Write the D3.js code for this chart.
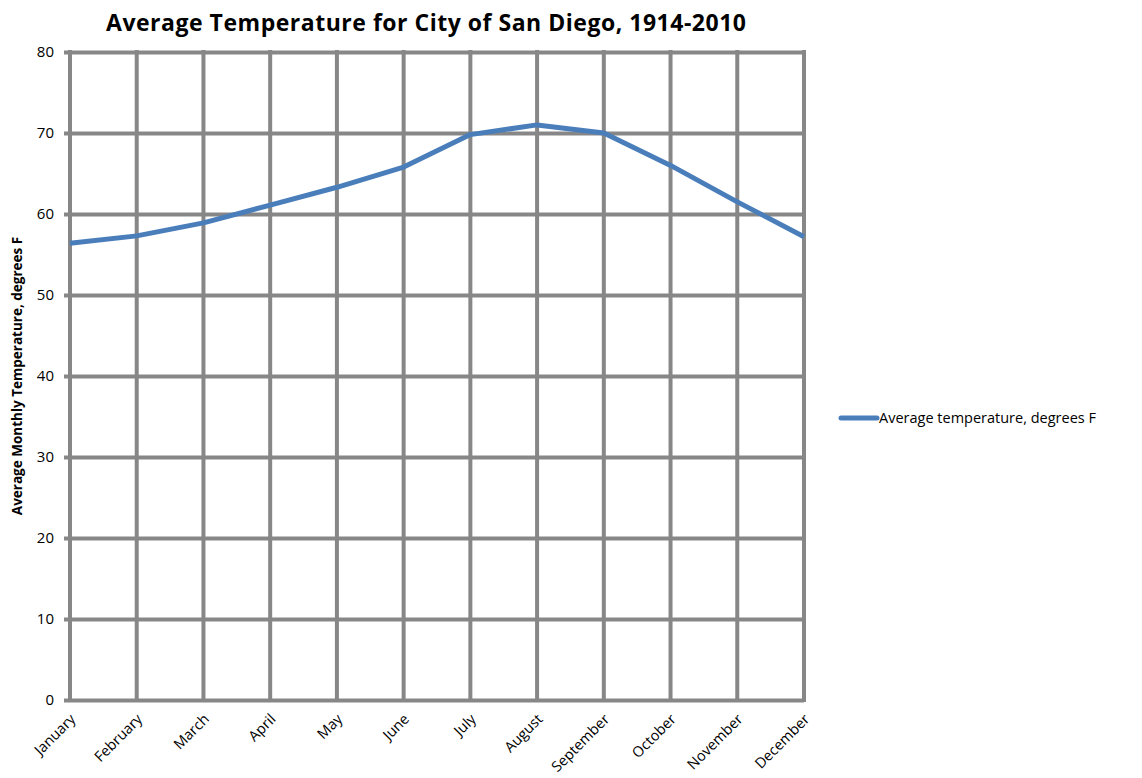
<!DOCTYPE html>
<html>
<head>
<meta charset="utf-8">
<script src="https://cdn.jsdelivr.net/npm/d3@7"></script>
<style>
  body { margin: 0; background: #fff; }
  text { font-family: "Open Sans", "DejaVu Sans", sans-serif; fill: #000; }
</style>
</head>
<body>
<div id="chart"></div>
<script>
// chart data
var months = ["January", "February", "March", "April", "May", "June",
  "July", "August", "September", "October", "November", "December"];
var avgTemps = [56.4, 57.3, 58.9, 61.1, 63.3, 65.8, 69.8, 71.0, 70.0, 66.0, 61.5, 57.2];
var yTicks = [0, 10, 20, 30, 40, 50, 60, 70, 80];
var seriesName = "Average temperature, degrees F";

var svgWidth = 1142;
var svgHeight = 778;

var margin = { top: 52, right: 338, bottom: 78, left: 70 };
var chartWidth = svgWidth - margin.left - margin.right;
var chartHeight = svgHeight - margin.top - margin.bottom;

var svg = d3.select("#chart").append("svg")
  .attr("width", svgWidth)
  .attr("height", svgHeight);

var chartGroup = svg.append("g")
  .attr("transform", `translate(${margin.left}, ${margin.top})`);

var xScale = d3.scalePoint()
  .domain(months)
  .range([0, chartWidth]);

var yScale = d3.scaleLinear()
  .domain([0, 80])
  .range([chartHeight, 0]);

var gridColor = "#878787";

// horizontal grid + y axis
var yAxis = d3.axisLeft(yScale)
  .tickValues(yTicks)
  .tickSize(-chartWidth - 6)
  .tickPadding(8);

var yg = chartGroup.append("g")
  .attr("transform", "translate(-6,0)")
  .call(yAxis);
yg.select(".domain").remove();
yg.selectAll(".tick line")
  .attr("stroke", gridColor)
  .attr("stroke-width", 4)
  .attr("x1", 0);
yg.selectAll(".tick text")
  .attr("x", -10)
  .attr("font-size", 15)
  .attr("fill", "#222");

// vertical grid lines
chartGroup.selectAll(".vgrid")
  .data(months)
  .enter()
  .append("line")
  .attr("class", "vgrid")
  .attr("x1", d => xScale(d))
  .attr("x2", d => xScale(d))
  .attr("y1", yScale(80) - 2)
  .attr("y2", yScale(0) + 2)
  .attr("stroke", gridColor)
  .attr("stroke-width", 4);

// x axis labels
var xAxis = d3.axisBottom(xScale).tickSize(0).tickPadding(0);
var xg = chartGroup.append("g")
  .attr("transform", `translate(0, ${chartHeight})`)
  .call(xAxis);
xg.select(".domain").remove();
xg.selectAll(".tick text")
  .attr("font-size", 14.5)
  .attr("fill", "#222")
  .attr("dy", null)
  .attr("text-anchor", "end")
  .attr("transform", "translate(6,20) rotate(-45)");

// the line
var line = d3.line()
  .x((d, i) => xScale(months[i]))
  .y(d => yScale(d));

chartGroup.append("path")
  .datum(avgTemps)
  .attr("d", line)
  .attr("fill", "none")
  .attr("stroke", "#4a7ebb")
  .attr("stroke-width", 5)
  .attr("stroke-linejoin", "round");

// title
svg.append("text")
  .attr("x", 426)
  .attr("y", 31)
  .attr("text-anchor", "middle")
  .attr("font-size", 23)
  .attr("font-weight", "bold")
  .attr("textLength", 640)
  .text("Average Temperature for City of San Diego, 1914-2010");

// y axis label
svg.append("text")
  .attr("transform", "translate(22, 376) rotate(-90)")
  .attr("text-anchor", "middle")
  .attr("font-size", 13.5)
  .attr("font-weight", "bold")
  .text("Average Monthly Temperature, degrees F");

// legend
var legend = svg.append("g")
  .attr("transform", "translate(841, 418)");
legend.append("line")
  .attr("x1", 0)
  .attr("x2", 36)
  .attr("stroke", "#4a7ebb")
  .attr("stroke-width", 5)
  .attr("stroke-linecap", "round");
legend.append("text")
  .attr("x", 38)
  .attr("y", 5)
  .attr("font-size", 14.5)
  .text(seriesName);
</script>
</body>
</html>
